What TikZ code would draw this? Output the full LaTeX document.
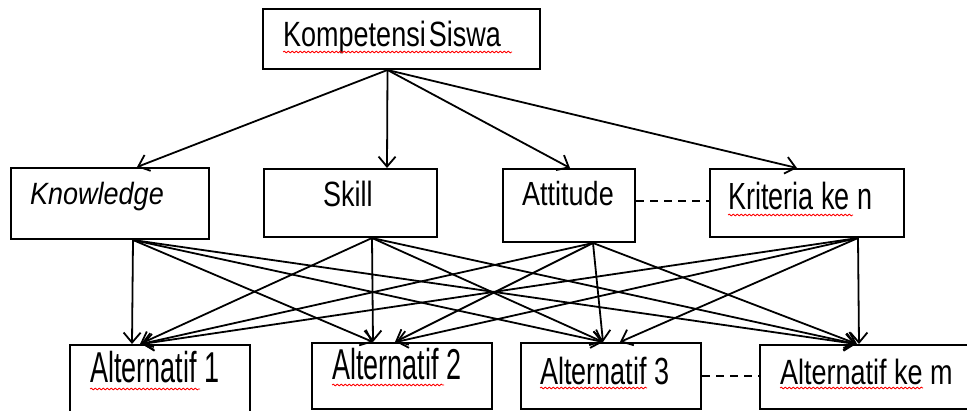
\documentclass[tikz,border=0pt]{standalone}
\usepackage{fontspec}
\setmainfont{Liberation Sans}
\usetikzlibrary{arrows.meta,decorations.pathmorphing}
\begin{document}
\begin{tikzpicture}[x=1pt,y=-1pt,
  box/.style={draw,line width=2pt,inner sep=0pt,rectangle},
  lbl/.style={anchor=base west,inner sep=0pt,font=\fontsize{27}{30}\selectfont},
  arr/.style={line width=1.8pt,-{Straight Barb[length=10pt,width=17pt]}},
  dsh/.style={line width=2pt,dash pattern=on 8pt off 6pt},
  squig/.style={red,line width=0.8pt,decorate,decoration={snake,amplitude=0.9pt,segment length=4pt}}]
\useasboundingbox (0,0) rectangle (967,411);
\clip (0,0) rectangle (967,411);

% boxes
\node[box,minimum width=277pt,minimum height=60pt] (top) at (401.5,39) {};
\node[box,minimum width=198pt,minimum height=71pt] (kn) at (110,203.5) {};
\node[box,minimum width=173pt,minimum height=68pt] (sk) at (350.5,203) {};
\node[box,minimum width=132pt,minimum height=73pt] (at) at (569,205.5) {};
\node[box,minimum width=194pt,minimum height=68pt] (kr) at (807,203) {};
\node[box,minimum width=180pt,minimum height=75pt] (a1) at (160,382.5) {};
\node[box,minimum width=180pt,minimum height=66pt] (a2) at (402,376) {};
\node[box,minimum width=180pt,minimum height=66pt] (a3) at (611,376) {};
\node[box,minimum width=210pt,minimum height=64pt] (a4) at (865,377) {};

% labels
\node[lbl] (tTop) at (283,47) {\scalebox{1}[1.3]{Kompetensi\hspace{3pt}Siswa}};
\node[lbl] (tKn) at (30,205) {\scalebox{1}[1.14]{\itshape Knowledge}};
\node[lbl] (tSk) at (323,207) {\scalebox{1}[1.3]{Skill}};
\node[lbl] (tAt) at (522,206) {\scalebox{1}[1.24]{Attitude}};
\node[lbl] (tKr) at (728,210) {\scalebox{1}[1.4]{Kriteria ke n}};
\node[lbl] (tA1) at (90,383) {\scalebox{1}[1.6]{Alternatif 1}};
\node[lbl] (tA2) at (332,380) {\scalebox{1}[1.6]{Alternatif 2}};
\node[lbl] (tA3) at (540,385) {\scalebox{1}[1.4]{Alternatif 3}};
\node[lbl] (tA4) at (780,385) {\scalebox{1}[1.3]{Alternatif ke m}};

% spell-check squiggles
\draw[squig] ([yshift=-5pt]tTop.base west) -- ++(229,0);
\draw[squig] ([yshift=-5pt]tKr.base west) -- ++(125,0);
\draw[squig] ([yshift=-6pt]tA1.base west) -- ++(110,0);
\draw[squig] ([yshift=-5pt]tA2.base west) -- ++(112,0);
\draw[squig] ([yshift=-3pt]tA3.base west) -- ++(107,0);
\draw[squig] ([yshift=-3pt]tA4.base west) -- ++(143,0);

% top arrows
\draw[arr] ([xshift=-14pt]top.south) -- ([xshift=27pt]kn.north);
\draw[arr] ([xshift=-14pt]top.south) -- ([xshift=36.5pt]sk.north);
\draw[arr] ([xshift=-14pt]top.south) -- ([xshift=1pt]at.north);
\draw[arr] ([xshift=-14pt]top.south) -- ([xshift=-10pt]kr.north);

% dashed links
\coordinate (d1) at ([yshift=2pt]kr.west);
\draw[dsh] (d1 -| at.east) -- (d1);
\draw[dsh] (a3.east) -- (a3.east -| a4.west);

% criteria -> alternatives
\coordinate (oK) at ([xshift=23pt]kn.south);
\coordinate (oS) at ([xshift=21.5pt]sk.south);
\coordinate (oA) at ([xshift=24pt]at.south);
\coordinate (oR) at ([xshift=51pt]kr.south);

\draw[arr] (oK) -- ([xshift=-28pt]a1.north);
\draw[arr] (oS) -- ([xshift=-20pt]a1.north);
\draw[arr] (oA) -- ([xshift=-19pt]a1.north);
\draw[arr] (oR) -- ([xshift=-18pt]a1.north);

\draw[arr] (oK) -- ([xshift=-29pt]a2.north);
\draw[arr] (oS) -- ([xshift=-29pt]a2.north);
\draw[arr] (oA) -- ([xshift=-7pt]a2.north);
\draw[arr] (oR) -- ([xshift=-6pt]a2.north);

\draw[arr] (oK) -- ([xshift=-8pt]a3.north);
\draw[arr] (oS) -- ([xshift=-8pt]a3.north);
\draw[arr] (oA) -- ([xshift=-8pt]a3.north);
\draw[arr] (oR) -- ([xshift=9pt]a3.north);

\draw[arr] (oK) -- ([xshift=-9pt]a4.north);
\draw[arr] (oS) -- ([xshift=-9pt]a4.north);
\draw[arr] (oA) -- ([xshift=-8pt]a4.north);
\draw[arr] (oR) -- ([xshift=-6pt]a4.north);
\end{tikzpicture}
\end{document}
